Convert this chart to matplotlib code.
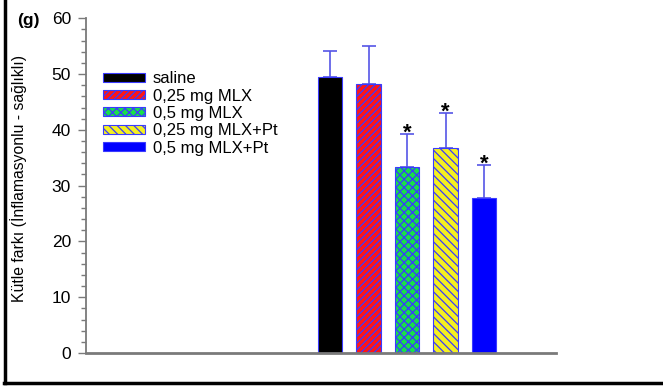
import numpy as np
import matplotlib
matplotlib.use("Agg")
import matplotlib.pyplot as plt
from matplotlib.lines import Line2D
from matplotlib.ticker import MultipleLocator

# data
groups = ["saline", "0,25 mg MLX", "0,5 mg MLX", "0,25 mg MLX+Pt", "0,5 mg MLX+Pt"]
means = [49.4, 48.2, 33.4, 36.7, 27.8]
errors = [4.7, 6.8, 5.9, 6.3, 5.9]
significant = [False, False, True, True, True]

# styling
face_colors = ["#000000", "#ff1515", "#18e048", "#f4f020", "#0000ff"]
hatches = [None, "/////", "xxxx", "\\\\\\\\", None]
edge_color = "#3a3aff"
err_color = "#5555e6"
axis_gray = "#7a7a7a"

plt.rcParams["font.family"] = ["Liberation Sans", "DejaVu Sans"]
plt.rcParams["hatch.linewidth"] = 0.9

fig = plt.figure(figsize=(6.63, 3.86), dpi=100)
ax = fig.add_axes([0.1297, 0.0855, 0.7083, 0.8671])

x = np.arange(len(groups))
bars = ax.bar(x, means, width=0.636, color=face_colors, edgecolor=edge_color,
              linewidth=0.8, label=groups, zorder=2)
for b, h in zip(bars, hatches):
    if h:
        b.set_hatch(h)

ax.errorbar(x, means, yerr=[np.zeros(len(errors)), errors], fmt="none",
            ecolor=err_color, elinewidth=1.2, capsize=5, capthick=1.2, zorder=1)

# significance stars above the error caps
for xi, m, e, s in zip(x, means, errors, significant):
    if s:
        ax.text(xi, m + e - 0.9, "*", ha="center", va="baseline",
                fontsize=16, fontweight="bold", color="black")

ax.set_xlim(-6.34, 5.86)
ax.set_ylim(0, 60)
ax.yaxis.set_major_locator(MultipleLocator(10))
ax.yaxis.set_minor_locator(MultipleLocator(2))
ax.set_xticks([])

for side in ["top", "right"]:
    ax.spines[side].set_visible(False)
ax.spines["left"].set_color(axis_gray)
ax.spines["left"].set_linewidth(1.3)
ax.spines["bottom"].set_color(axis_gray)
ax.spines["bottom"].set_linewidth(2)

ax.tick_params(axis="y", which="major", length=5.8, width=1, color=axis_gray,
               labelsize=12.5, pad=5)
ax.tick_params(axis="y", which="minor", length=3.4, width=1, color=axis_gray)

ax.set_ylabel("Kütle farkı (İnflamasyonlu - sağlıklı)", fontsize=11.3)
ax.yaxis.set_label_coords(-0.125, 0.52)

ax.legend(loc="upper left", bbox_to_anchor=(0.036, 0.842), frameon=False,
          fontsize=12, handlelength=2.5, handleheight=0.45, handletextpad=0.5,
          labelspacing=0.14, borderpad=0, borderaxespad=0)

fig.text(17 / 663, 1 - 20 / 386, "(g)", fontsize=12.5, fontweight="bold",
         ha="left", va="center")

# black frame of the panel (left and bottom edges)
fig.add_artist(Line2D([4.5 / 663, 4.5 / 663], [3 / 386, 1], color="black",
                      linewidth=2.5, transform=fig.transFigure))
fig.add_artist(Line2D([3.5 / 663, 1], [3 / 386, 3 / 386], color="black",
                      linewidth=2.5, transform=fig.transFigure))

fig.savefig("out.png", dpi=100)
